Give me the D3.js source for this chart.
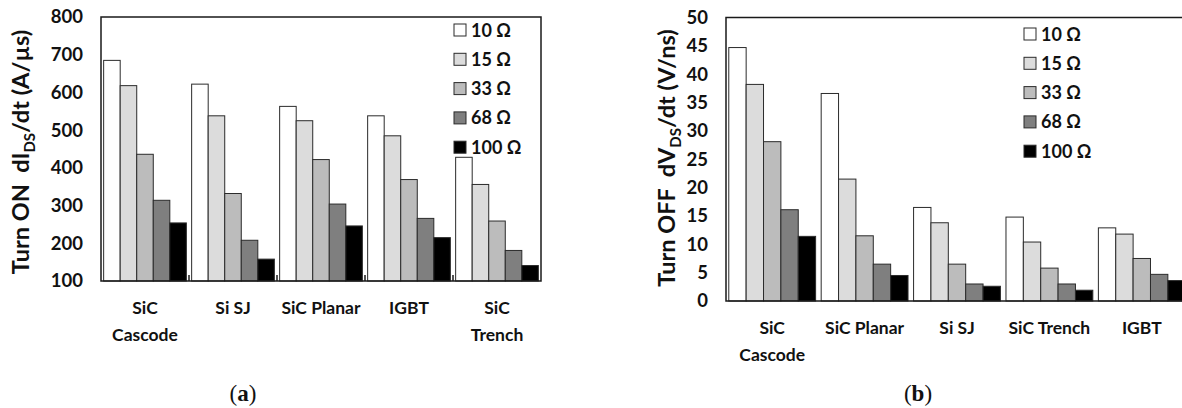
<!DOCTYPE html>
<html lang="en">
<head>
    <meta charset="UTF-8">
    <title>Turn ON / Turn OFF dv/dt bar charts</title>
    <script src="https://d3js.org/d3.v7.min.js"></script>
    <style>
        body{ margin:0; background-color:white; }
        svg{ display:block; }
        text{ font-family: Lato, "Open Sans", sans-serif; font-weight:bold; fill:#111; }
        text.cap{ font-family: "Liberation Serif", serif; font-weight:normal; }
    </style>
</head>
<body>
    <script>
        const series = ["10 \u03A9","15 \u03A9","33 \u03A9","68 \u03A9","100 \u03A9"];
        const fills = ["#ffffff","#dcdcdc","#bcbcbc","#7f7f7f","#000000"];

        // chart (a) turn on dI/dt
        const catsA = [["SiC","Cascode"],["Si SJ"],["SiC Planar"],["IGBT"],["SiC","Trench"]];
        const valsA = [
            [685,618,436,314,254],
            [622,538,332,208,158],
            [563,525,422,304,246],
            [538,485,369,266,215],
            [428,356,259,181,141]
        ];
        const ticksA = [100,200,300,400,500,600,700,800];

        // chart (b) turn off dV/dt
        const catsB = [["SiC","Cascode"],["SiC Planar"],["Si SJ"],["SiC Trench"],["IGBT"]];
        const valsB = [
            [44.7,38.2,28.1,16.1,11.4],
            [36.6,21.5,11.5,6.5,4.5],
            [16.5,13.8,6.5,3.0,2.6],
            [14.8,10.4,5.8,3.0,1.9],
            [12.9,11.8,7.5,4.7,3.6]
        ];
        const ticksB = [0,5,10,15,20,25,30,35,40,45,50];

        const W = 1182, H = 408;
        const svg = d3.select("body").append("svg").attr("width",W).attr("height",H);

        function drawChart(o){
            const g = svg.append("g");
            const x = d3.scaleBand().domain(d3.range(o.cats.length)).range([o.left,o.right]);
            const xs = d3.scaleBand().domain(d3.range(series.length)).range([0,x.bandwidth()]).paddingOuter(0.16);
            const y = d3.scaleLinear().domain(o.domain).range([o.bottom,o.top]);

            // bars
            o.vals.forEach(function(row,i){
                g.selectAll(null).data(row).enter().append("rect")
                    .attr("x",function(d,j){ return x(i)+xs(j); })
                    .attr("y",function(d){ return y(d); })
                    .attr("width",xs.bandwidth())
                    .attr("height",function(d){ return y(o.domain[0])-y(d); })
                    .attr("fill",function(d,j){ return fills[j]; })
                    .attr("stroke","#2b2b2b").attr("stroke-width",1);
            });

            // frame
            g.append("rect").attr("x",o.left).attr("y",o.top)
                .attr("width",o.right-o.left).attr("height",o.bottom-o.top)
                .attr("fill","none").attr("stroke","#1a1a1a").attr("stroke-width",1.5);

            // small inner ticks between groups
            if(o.innerTicks){
                d3.range(1,o.cats.length).forEach(function(i){
                    g.append("line").attr("x1",x(i)).attr("x2",x(i))
                        .attr("y1",o.bottom).attr("y2",o.bottom-6)
                        .attr("stroke","#1a1a1a").attr("stroke-width",1.5);
                });
            }

            // y axis
            const ax = g.append("g").attr("transform","translate("+o.left+",0)")
                .call(d3.axisLeft(y).tickValues(o.ticks).tickSize(0).tickPadding(18));
            ax.select(".domain").remove();
            ax.selectAll("text").style("font-size","18.5px").style("font-family","Lato, sans-serif")
                .style("font-weight","bold").attr("fill","#111");

            // category labels
            o.cats.forEach(function(c,i){
                const t = g.append("text").attr("text-anchor","middle")
                    .attr("x",x(i)+x.bandwidth()/2).attr("y",o.labelY).style("font-size","17.5px");
                c.forEach(function(line,k){
                    t.append("tspan").attr("x",x(i)+x.bandwidth()/2).attr("dy",k===0?0:27).text(line);
                });
            });

            // legend
            series.forEach(function(s,j){
                const ly = o.legY + j*29.3;
                g.append("rect").attr("x",o.legX).attr("y",ly-6).attr("width",12).attr("height",12)
                    .attr("fill",fills[j]).attr("stroke","#2b2b2b").attr("stroke-width",1);
                g.append("text").attr("x",o.legX+17).attr("y",ly+6.5).style("font-size","18px").text(s);
            });

            // y title
            const tt = g.append("text").attr("text-anchor","middle").style("font-size","23.5px")
                .attr("transform","translate("+o.titleX+","+o.titleY+") rotate(-90)");
            tt.append("tspan").text(o.title[0]);
            tt.append("tspan").style("font-size","15px").attr("dy",6).text(o.title[1]);
            tt.append("tspan").attr("dy",-6).text(o.title[2]);

            // caption
            const cap = g.append("text").attr("class","cap").attr("text-anchor","middle")
                .attr("x",o.capX).attr("y",401).style("font-size","23px");
            cap.append("tspan").text("(");
            cap.append("tspan").style("font-weight","bold").text(o.cap);
            cap.append("tspan").text(")");
        }

        drawChart({cats:catsA, vals:valsA, ticks:ticksA, domain:[100,800],
            left:101, right:541, top:17, bottom:281, innerTicks:true, labelY:314,
            legX:454, legY:30, titleX:29, titleY:152, capX:243, cap:"a",
            title:["Turn ON\u00A0\u00A0dI","DS","/dt (A/\u00B5s)"]});

        drawChart({cats:catsB, vals:valsB, ticks:ticksB, domain:[0,50],
            left:726, right:1188, top:17.5, bottom:301, innerTicks:false, labelY:334,
            legX:1024, legY:34, titleX:675, titleY:158, capX:918, cap:"b",
            title:["Turn OFF\u00A0\u00A0dV","DS","/dt (V/ns)"]});
    </script>
</body>
</html>
